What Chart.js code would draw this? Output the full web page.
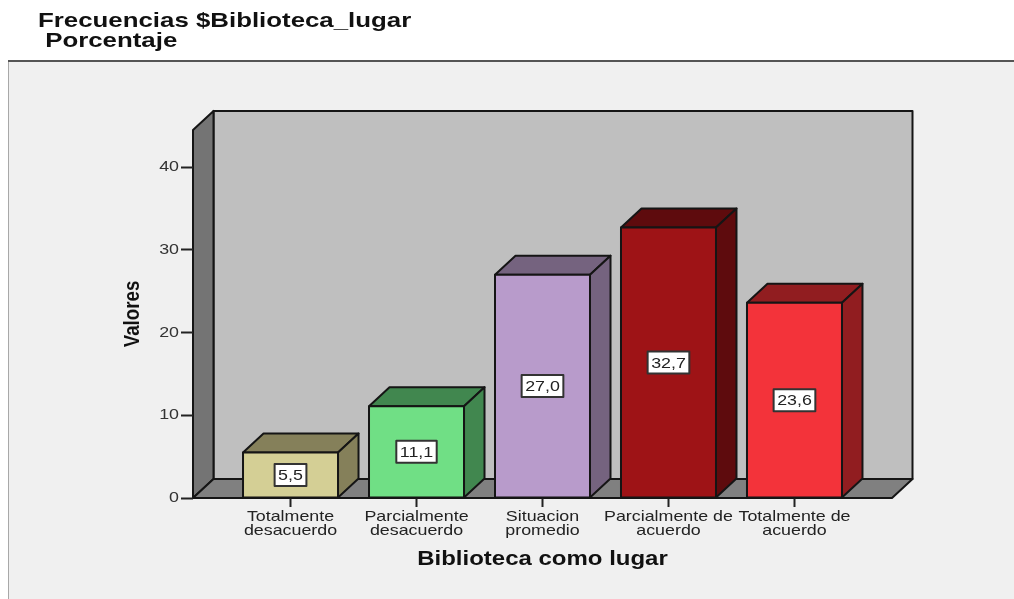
<!DOCTYPE html>
<html>
<head>
<meta charset="utf-8">
<style>
  html, body { margin: 0; padding: 0; background: #fff; overflow: hidden; }
  canvas { display: block; }
</style>
<script src="https://cdn.jsdelivr.net/npm/chart.js@4/dist/chart.umd.js"></script>
</head>
<body>
<canvas id="freqChart" width="1014" height="599"></canvas>
<script>
/* datos */
const categories = [
    ["Totalmente", "desacuerdo"],
    ["Parcialmente", "desacuerdo"],
    ["Situacion", "promedio"],
    ["Parcialmente de", "acuerdo"],
    ["Totalmente de", "acuerdo"]
];
const values = [5.5, 11.1, 27.0, 32.7, 23.6];
const yTicks = [0, 10, 20, 30, 40];
const titleLines = ["Frecuencias $Biblioteca_lugar", " Porcentaje"];
const frontColors = ["#d4cf95", "#70df85", "#b89bcb", "#9e1316", "#f3333a"];
const sideColors = ["#85805a", "#41874f", "#75637f", "#5e0b0d", "#911d20"];

const DEPTH_X = 20.5;
const DEPTH_Y = 19;
const YMAX = 44.5;
const INK = "#151515";
const FONT = "'Liberation Sans'";
const STRETCH = 1.23;      // la imagen original esta estirada a lo ancho
const STRETCH_ROT = 0.85;  // el texto girado queda mas estrecho

/* ===== texto estirado igual que en la imagen ===== */
const canvas = document.getElementById("freqChart");
const ctx2d = canvas.getContext("2d");
const plainFillText = ctx2d.fillText.bind(ctx2d);
ctx2d.fillText = function(text, x, y){
    const rotated = Math.abs(ctx2d.getTransform().b) > 0.01;
    ctx2d.save();
    ctx2d.translate(x, y);
    ctx2d.scale(rotated ? STRETCH_ROT : STRETCH, 1);
    plainFillText(text, 0, 0);
    ctx2d.restore();
};

function poly(ctx, pts, fill, stroke, lw){
    ctx.beginPath();
    pts.forEach((p, i) => i ? ctx.lineTo(p[0], p[1]) : ctx.moveTo(p[0], p[1]));
    ctx.closePath();
    ctx.fillStyle = fill;
    ctx.fill();
    ctx.lineWidth = lw;
    ctx.strokeStyle = stroke;
    ctx.lineJoin = "round";
    ctx.stroke();
}

/* ===== panel y paredes 3D ===== */
const wallsPlugin = {
    id: "walls",
    beforeDraw(chart){
        const { ctx, chartArea: a } = chart;
        const W = chart.width, H = chart.height;
        ctx.save();
        ctx.fillStyle = "#f0f0f0";
        ctx.fillRect(8, 61, W - 8, H - 61);
        ctx.fillStyle = "#a8a8a8";
        ctx.fillRect(8, 61, 1, H - 61);
        ctx.fillStyle = "#555";
        ctx.fillRect(8, 60, W - 8, 2);

        const dx = DEPTH_X, dy = DEPTH_Y;
        poly(ctx, [[a.left + dx, a.top - dy], [a.right + dx, a.top - dy], [a.right + dx, a.bottom - dy], [a.left + dx, a.bottom - dy]], "#bfbfbf", INK, 2);
        poly(ctx, [[a.left, a.top], [a.left + dx, a.top - dy], [a.left + dx, a.bottom - dy], [a.left, a.bottom]], "#747474", INK, 2);
        poly(ctx, [[a.left, a.bottom], [a.right, a.bottom], [a.right + dx, a.bottom - dy], [a.left + dx, a.bottom - dy]], "#808080", INK, 2);
        ctx.restore();
    },
    afterDatasetsDraw(chart){
        const { ctx } = chart;
        const bars = chart.getDatasetMeta(0).data;
        const dx = DEPTH_X, dy = DEPTH_Y;
        ctx.save();
        bars.forEach((bar, i) => {
            const half = bar.width / 2;
            const l = bar.x - half, r = bar.x + half, t = bar.y, b = bar.base;
            poly(ctx, [[l, t], [r, t], [r + dx, t - dy], [l + dx, t - dy]], sideColors[i], INK, 2);
            poly(ctx, [[r, t], [r + dx, t - dy], [r + dx, b - dy], [r, b]], sideColors[i], INK, 2);
            poly(ctx, [[l, t], [r, t], [r, b], [l, b]], frontColors[i], INK, 2);

            /* etiqueta del valor */
            const txt = values[i].toFixed(1).replace(".", ",");
            ctx.font = "14.5px " + FONT;
            const w = ctx.measureText(txt).width * STRETCH + 7;
            const h = 22;
            const cy = (t + b) / 2;
            ctx.fillStyle = "#fff";
            ctx.strokeStyle = "#333";
            ctx.lineWidth = 2;
            ctx.fillRect(bar.x - w / 2, cy - h / 2, w, h);
            ctx.strokeRect(bar.x - w / 2, cy - h / 2, w, h);
            ctx.fillStyle = "#222";
            ctx.textAlign = "center";
            ctx.textBaseline = "middle";
            ctx.fillText(txt, bar.x, cy + 1);
        });
        ctx.restore();
    }
};

new Chart(canvas, {
    type: "bar",
    data: {
        datasets: [{
            data: values.map((v, i) => ({ x: i + 1, y: v })),
            backgroundColor: frontColors,
            borderWidth: 0,
            barThickness: 95
        }]
    },
    plugins: [wallsPlugin],
    options: {
        responsive: false,
        animation: false,
        layout: { padding: { left: 38, right: 122, top: 0, bottom: 0 } },
        plugins: {
            legend: { display: false },
            tooltip: { enabled: false },
            title: {
                display: true,
                text: titleLines,
                align: "start",
                color: "#111",
                font: { family: FONT, size: 21, weight: "bold", lineHeight: 0.95 },
                padding: { top: 11, bottom: 79 }
            }
        },
        scales: {
            x: {
                type: "linear",
                offset: false,
                min: 0.226,
                max: 5.774,
                afterBuildTicks: axis => { axis.ticks = categories.map((_, i) => ({ value: i + 1 })); },
                afterFit: axis => { axis.height = 101; },
                border: { display: false },
                grid: { offset: false, drawOnChartArea: false, tickLength: 9, tickWidth: 2, tickColor: "#222" },
                ticks: {
                    autoSkip: false,
                    maxRotation: 0,
                    padding: 3,
                    color: "#222",
                    font: { family: FONT, size: 14.5, lineHeight: 0.97 },
                    callback: val => categories[val - 1]
                },
                title: {
                    display: true,
                    text: "Biblioteca como lugar",
                    color: "#111",
                    font: { family: FONT, size: 19.5, weight: "bold" },
                    padding: { top: 0, bottom: 28 }
                }
            },
            y: {
                min: 0,
                max: YMAX,
                afterBuildTicks: axis => { axis.ticks = yTicks.map(v => ({ value: v })); },
                afterFit: axis => { axis.width = 155; },
                border: { display: false },
                grid: { drawOnChartArea: false, tickLength: 12, tickWidth: 2, tickColor: "#222" },
                ticks: {
                    padding: 2,
                    color: "#333",
                    font: { family: FONT, size: 14.5 }
                },
                title: {
                    display: true,
                    text: "Valores",
                    color: "#111",
                    font: { family: FONT, size: 22, weight: "bold" },
                    padding: { top: 82, bottom: 0 }
                }
            }
        }
    }
});
</script>
</body>
</html>
